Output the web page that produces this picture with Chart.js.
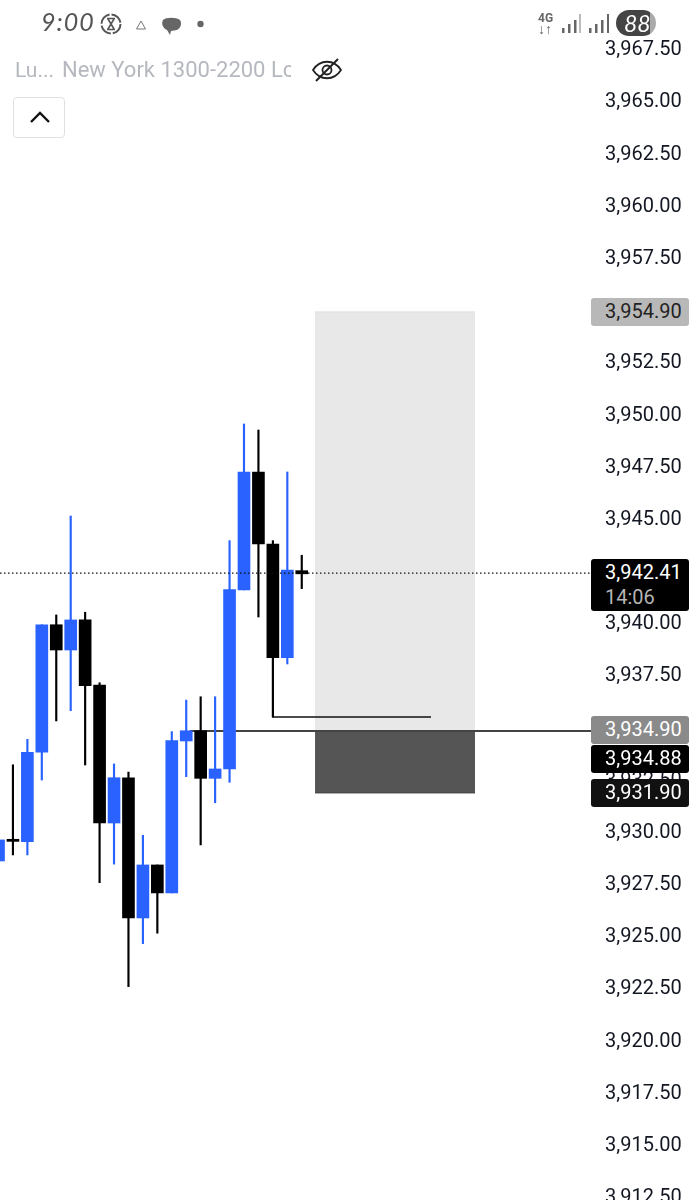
<!DOCTYPE html>
<html>
<head>
<meta charset="utf-8">
<title>Chart</title>
<script src="https://cdn.jsdelivr.net/npm/chart.js@4"></script>
<style>
  html, body { margin: 0; padding: 0; background: #fff; }
  body { width: 697px; height: 1200px; position: relative; overflow: hidden; font-family: Roboto, sans-serif; }
  canvas { position: absolute; left: 0; top: 0; }
  .abs { position: absolute; white-space: nowrap; }
  .tag { position: absolute; left: 591px; width: 98px; height: 28px; border-radius: 3px; font-size: 20px; line-height: 27px; text-indent: 14px; color: #fff; }
  #clock { left: 41px; top: 6px; font: italic 25px Lato, sans-serif; letter-spacing: 1px; color: #555; }
  #net { left: 538px; top: 13px; font: bold 12px/11px Roboto, sans-serif; color: #666; }
  #battery { left: 616px; top: 10px; width: 40px; height: 26px; border-radius: 13px; background: linear-gradient(90deg, #444 0 85%, #aaa 85% 100%); color: #fff; font: italic 23px/26px Lato, sans-serif; text-indent: 8px; }
  #study1, #study2 { top: 57px; line-height: 26px; color: #b5b8be; }
  #study1 { left: 15px; font-size: 21px; }
  #study2 { left: 62px; width: 229px; overflow: hidden; font-size: 22px; }
  #collapse { left: 13px; top: 97px; width: 50px; height: 39px; border: 1px solid #e0e0e0; border-radius: 4px; background: #fff; }
</style>
</head>
<body>
<canvas id="chart" width="697" height="1200"></canvas>

<div class="abs" id="clock">9:00</div>
<svg class="abs" style="left:100px;top:12px" width="106" height="24" viewBox="0 0 106 24" fill="none">
  <circle cx="11" cy="12" r="9.5" stroke="#555" stroke-width="2" stroke-dasharray="13 2"/>
  <path d="M7 6.5h8M7 17.5h8M8 7l6 10M14 7l-6 10" stroke="#555" stroke-width="1.6"/>
  <path d="M41 9l4.5 8h-9z" stroke="#777"/>
  <path d="M63 8c3-3 13-3 17 0 2 3 1 8-3 10l-6 1-1 4-3-5c-4-2-6-6-4-10z" fill="#666"/>
  <circle cx="100.5" cy="12" r="3.2" fill="#666"/>
</svg>
<div class="abs" id="net">4G<br><span style="font-size:14px">↓↑</span></div>
<svg class="abs" style="left:560px;top:13px" width="50" height="21" viewBox="0 0 50 21" fill="#666">
  <rect x="2" y="15" width="2.5" height="5"/><rect x="8" y="11" width="2.5" height="9"/><rect x="14" y="7" width="2.5" height="13"/><rect x="19" y="1" width="2" height="19" fill="#bbb"/>
  <rect x="29" y="15" width="2.5" height="5"/><rect x="35" y="11" width="2.5" height="9"/><rect x="41" y="7" width="2.5" height="13"/><rect x="47" y="1" width="2" height="19"/>
</svg>
<div class="abs" id="battery">88</div>

<div class="abs" id="study1">Lu...</div>
<div class="abs" id="study2">New York 1300-2200 Lc</div>
<svg class="abs" style="left:310px;top:56px" width="34" height="28" viewBox="0 0 34 28" fill="none" stroke="#222" stroke-width="1.8">
  <path d="M3 14c7-11 21-11 28 0-7 11-21 11-28 0z"/>
  <circle cx="17" cy="14" r="4.5"/>
  <path d="M6 25L28 3" stroke-width="2"/>
</svg>
<div class="abs" id="collapse">
  <svg style="position:absolute;left:15px;top:12px" width="22" height="14" viewBox="0 0 22 14" fill="none" stroke="#111" stroke-width="2.4"><path d="M2 12L11 3l9 9"/></svg>
</div>

<div id="tags"></div>

<script>
// candles, left to right
const candleIndex = [0, 1, 2, 3, 4, 5, 6, 7, 8, 9, 10, 11, 12, 13, 14, 15, 16, 17, 18, 19, 20, 21];
const opens = [3928.56, 3929.6, 3929.49, 3933.77, 3939.88, 3938.67, 3940.11, 3936.99, 3930.38, 3932.55, 3925.83, 3928.37, 3927.03, 3934.31, 3934.8, 3932.52, 3932.97, 3941.55, 3947.2, 3943.75, 3938.3, 3942.47];
const closes = [3929.57, 3929.5, 3933.77, 3939.88, 3938.67, 3940.11, 3936.96, 3930.38, 3932.55, 3925.83, 3928.37, 3927.03, 3934.33, 3934.8, 3932.52, 3932.97, 3941.56, 3947.2, 3943.75, 3938.3, 3942.5, 3942.32];
const highs = [3929.57, 3933.17, 3934.39, 3939.88, 3940.35, 3945.09, 3940.48, 3937.1, 3933.21, 3932.82, 3929.79, 3928.37, 3934.76, 3936.27, 3936.43, 3936.43, 3943.91, 3949.5, 3949.21, 3943.91, 3947.2, 3943.21];
const lows = [3928.56, 3928.85, 3928.85, 3932.44, 3935.27, 3935.76, 3933.16, 3927.52, 3928.41, 3922.54, 3924.6, 3925.1, 3927.03, 3932.6, 3929.33, 3931.35, 3932.33, 3941.55, 3940.25, 3935.46, 3938.0, 3941.61];

// price axis
const priceTicks = [3967.5, 3965, 3962.5, 3960, 3957.5, 3955, 3952.5, 3950, 3947.5, 3945, 3942.5, 3940, 3937.5, 3935, 3932.5, 3930, 3927.5, 3925, 3922.5, 3920, 3917.5, 3915, 3912.5];

// position tool + lines drawn on the chart
const zoneBars = [21.92, 33];
const targetLevel = 3954.87;
const entryLevel = 3934.79;
const stopLevel = 3931.82;
const entryLineBars = [13.26, 41.03];
const lastPriceLevel = 3942.35;
const markerBars = [19, 19, 29.95];
const markerPrices = [3938.3, 3935.46, 3935.46];

// price tags on the right
const tagLabels = ["3,954.90", "3,942.41", "3,934.90", "3,934.88", "3,931.90"];
const countdown = "14:06";

const BLUE = "#2962ff";
const BLACK = "#000000";

function lineSet(xs, ys, color, width, order, extra) {
  return Object.assign({
    type: "line",
    data: xs.map((x, i) => ({ x, y: ys[i] })),
    borderColor: color,
    borderWidth: width,
    pointRadius: 0,
    tension: 0,
    order,
  }, extra || {});
}

const candleColors = opens.map((o, i) => (closes[i] > o ? BLUE : BLACK));

// digits sit a little high with a middle baseline, nudge the axis text down
const nudgeTickLabels = {
  id: "nudgeTickLabels",
  afterUpdate(chart) {
    chart.scales.y.getLabelItems().forEach((item) => {
      item.options.translation[1] += 2;
    });
  },
};

new Chart(document.getElementById("chart"), {
  type: "bar",
  plugins: [nudgeTickLabels],
  data: {
    datasets: [
      lineSet(zoneBars, [targetLevel, targetLevel], "#dedede", 1, 6, {
        fill: { value: entryLevel },
        backgroundColor: "#e8e8e8",
      }),
      lineSet(zoneBars, [stopLevel, stopLevel], "#454545", 1, 5, {
        fill: { value: entryLevel },
        backgroundColor: "#555555",
      }),
      lineSet(entryLineBars, [entryLevel, entryLevel], "#444444", 2, 4),
      lineSet(markerBars, markerPrices, "#111111", 1.3, 3),
      {
        label: "wicks",
        data: candleIndex.map((x, i) => ({ x, y: [lows[i], highs[i]] })),
        backgroundColor: candleColors,
        barThickness: 1.5,
        grouped: false,
        order: 2,
      },
      {
        label: "bodies",
        data: candleIndex.map((x, i) => ({ x, y: [opens[i], closes[i]] })),
        backgroundColor: candleColors,
        barThickness: 12,
        grouped: false,
        order: 1,
      },
      lineSet([0.104, 41.03], [lastPriceLevel, lastPriceLevel], "#111111", 1.2, 0, {
        borderDash: [1.5, 2.5],
      }),
    ],
  },
  options: {
    responsive: false,
    animation: false,
    layout: { padding: 0 },
    plugins: { legend: { display: false }, tooltip: { enabled: false } },
    scales: {
      x: {
        type: "linear",
        display: false,
        offset: false,
        min: 0.104,
        max: 41.03,
        grid: { display: false },
      },
      y: {
        position: "right",
        min: 3912.316,
        max: 3969.815,
        grid: { display: false, drawTicks: false },
        border: { display: false },
        afterBuildTicks: (scale) => {
          scale.ticks = priceTicks.map((value) => ({ value }));
        },
        afterFit: (scale) => {
          scale.width = 106;
          // keep the plot area at the full canvas height
          scale.paddingTop = 0;
          scale.paddingBottom = 0;
        },
        ticks: {
          autoSkip: false,
          maxRotation: 0,
          padding: 14,
          color: "#131722",
          font: { family: "Roboto", size: 20 },
          callback: (v) =>
            v.toLocaleString("en-US", { minimumFractionDigits: 2, maximumFractionDigits: 2 }),
        },
      },
    },
  },
});

// price tags sit on top of the axis like in the app
const tagBoxes = [
  { top: 298, bg: "#b8b8b8", color: "#222" },
  { top: 559, bg: "#000", color: "#fff", height: 52 },
  { top: 716, bg: "#8a8a8a", color: "#fff" },
  { top: 745, bg: "#000", color: "#fff" },
  { top: 779, bg: "#111", color: "#fff" },
];
const tagsRoot = document.getElementById("tags");
tagLabels.forEach((label, i) => {
  const box = tagBoxes[i];
  const tag = document.createElement("div");
  tag.className = "tag";
  tag.style.top = box.top + "px";
  tag.style.background = box.bg;
  tag.style.color = box.color;
  if (box.height) tag.style.height = box.height + "px";
  tag.textContent = label;
  if (box.height) {
    const sub = document.createElement("div");
    sub.style.color = "#b4b4b4";
    sub.style.lineHeight = "23px";
    sub.textContent = countdown;
    tag.appendChild(sub);
  }
  tagsRoot.appendChild(tag);
});
</script>
</body>
</html>
